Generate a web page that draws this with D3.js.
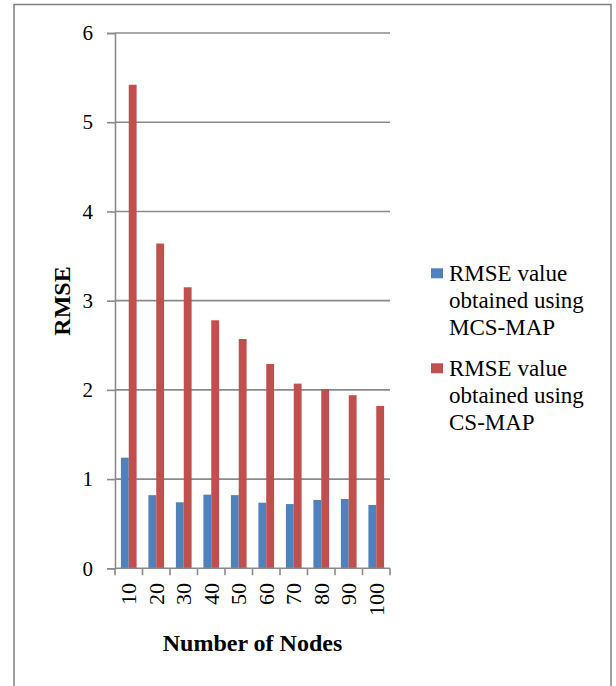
<!DOCTYPE html>
<html>
<head>
<meta charset="utf-8">
<script src="https://cdn.jsdelivr.net/npm/d3@7/dist/d3.min.js"></script>
<style>
  html, body { margin: 0; padding: 0; background: #fff; }
  svg { display: block; }
  text { font-family: "Liberation Serif", "Times New Roman", serif; fill: #000; }
</style>
</head>
<body>
<svg id="chart" width="616" height="686"></svg>
<script>
const categories = ["10", "20", "30", "40", "50", "60", "70", "80", "90", "100"];
const seriesNames = ["MCS-MAP", "CS-MAP"];
const mcsMap = [1.24, 0.82, 0.74, 0.825, 0.82, 0.735, 0.72, 0.766, 0.777, 0.71];
const csMap = [5.42, 3.64, 3.15, 2.78, 2.57, 2.29, 2.07, 2.01, 1.94, 1.82];
const yTicks = [0, 1, 2, 3, 4, 5, 6];
const legendLabels = [
  ["RMSE value", "obtained using", "MCS-MAP"],
  ["RMSE value", "obtained using", "CS-MAP"]
];
const colors = ["#4F81BD", "#C0504D"];
const gridColor = "#8a8a8a";

const svg = d3.select("#chart");

// outer frame
svg.append("path")
  .attr("d", "M14,690 L14,4.5 L611,4.5 L611,690")
  .attr("fill", "none").attr("stroke", "#808080").attr("stroke-width", 1.5);

const plot = { left: 115, right: 390, top: 33, bottom: 568.3 };

const y = d3.scaleLinear().domain([0, 6]).range([plot.bottom, plot.top]);
const x0 = d3.scaleBand().domain(categories).range([plot.left, plot.right]).padding(0);
const x1 = d3.scaleBand().domain(seriesNames).range([0, x0.bandwidth()]).paddingInner(0).paddingOuter(0.75);

// gridlines
svg.append("g").selectAll("line").data(yTicks.filter(d => d > 0)).join("line")
  .attr("x1", plot.left).attr("x2", plot.right)
  .attr("y1", d => y(d)).attr("y2", d => y(d))
  .attr("stroke", gridColor).attr("stroke-width", 1.6);

// bars
const data = categories.map((c, i) => ({ c, vals: [mcsMap[i], csMap[i]] }));
const groups = svg.append("g").selectAll("g").data(data).join("g")
  .attr("transform", d => `translate(${x0(d.c)},0)`);
groups.selectAll("rect").data(d => d.vals.map((v, j) => ({ v, s: seriesNames[j], j }))).join("rect")
  .attr("x", d => x1(d.s))
  .attr("width", x1.bandwidth())
  .attr("y", d => y(d.v))
  .attr("height", d => y(0) - y(d.v))
  .attr("fill", d => colors[d.j]);

// y axis
const yAxis = d3.axisLeft(y).tickValues(yTicks).tickSize(8).tickPadding(14).tickFormat(d3.format("d"));
const yg = svg.append("g").attr("transform", `translate(${plot.left},0)`).call(yAxis);
yg.select(".domain").attr("stroke", gridColor).attr("stroke-width", 1.6);
yg.selectAll(".tick line").attr("stroke", gridColor).attr("stroke-width", 1.6);
yg.selectAll(".tick text").attr("font-size", 21).attr("font-family", "Liberation Serif").attr("fill", "#000");

// x axis
svg.append("line")
  .attr("x1", plot.left).attr("x2", plot.right)
  .attr("y1", y(0)).attr("y2", y(0))
  .attr("stroke", gridColor).attr("stroke-width", 1.6);
const boundaries = categories.map(c => x0(c)).concat([plot.right]);
svg.append("g").selectAll("line").data(boundaries).join("line")
  .attr("x1", d => d).attr("x2", d => d)
  .attr("y1", y(0)).attr("y2", y(0) + 7)
  .attr("stroke", gridColor).attr("stroke-width", 1.6);
svg.append("g").selectAll("text").data(categories).join("text")
  .attr("transform", d => `translate(${x0(d) + x0.bandwidth() / 2},583) rotate(-90)`)
  .attr("text-anchor", "end")
  .attr("dy", "0.35em")
  .attr("font-size", 22)
  .text(d => d);

// axis titles
svg.append("text")
  .attr("transform", "translate(70,301) rotate(-90)")
  .attr("text-anchor", "middle")
  .attr("font-size", 24).attr("font-weight", "bold")
  .text("RMSE");
svg.append("text")
  .attr("x", 252.5).attr("y", 651)
  .attr("text-anchor", "middle")
  .attr("font-size", 24).attr("font-weight", "bold")
  .text("Number of Nodes");

// legend
const legendTops = [268.3, 363.3];
const legend = svg.append("g");
legendLabels.forEach((lines, i) => {
  legend.append("rect")
    .attr("x", 431).attr("y", legendTops[i])
    .attr("width", 12).attr("height", 10)
    .attr("fill", colors[i]);
  lines.forEach((t, k) => {
    legend.append("text")
      .attr("x", 449).attr("y", legendTops[i] + 12.4 + k * 27)
      .attr("font-size", 23)
      .text(t);
  });
});
</script>
</body>
</html>
